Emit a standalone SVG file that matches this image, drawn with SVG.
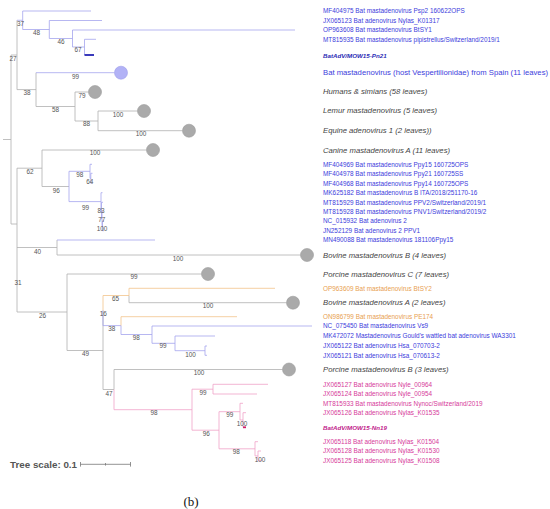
<svg xmlns="http://www.w3.org/2000/svg" width="550" height="509" viewBox="0 0 550 509">
<style>
.br{fill:none;stroke-width:0.8}
.g{stroke:#b0b0b0}.b{stroke:#a4a4ee}.o{stroke:#f2c48c}.p{stroke:#f0a2c8}
.lf{font-family:"Liberation Sans",Arial,sans-serif;font-size:6.4px}
.bl{fill:#3c3cdc}.or{fill:#e8a050}.pk{fill:#d63a9a}
.grp{font-family:"Liberation Sans",Arial,sans-serif;font-size:7.7px;font-style:italic;fill:#444}
.em{font-family:"Liberation Sans",Arial,sans-serif;font-size:6.2px;font-style:italic;font-weight:bold}
.bs{font-family:"Liberation Sans",Arial,sans-serif;font-size:6.4px;fill:#555;text-anchor:middle}
.cg{fill:#aaaaaa;stroke:#9a9a9a;stroke-width:0.6}
.cb{fill:#b2b2f6;stroke:#9c9cea;stroke-width:0.6}
</style>
<rect width="550" height="509" fill="#ffffff"/>
<g id="connectors">
<path class="br g" d="M3 139.5H11M11 55V224M11 55H17M11 224H17M17 20.25V89.6M17 89.6H36M36 72.7V106.5M36 106.5H75M75 92V121M75 92H88.5M75 121H98M98 111V130.7M98 111H137.5M98 130.7H182.5M17 168.2V312M17 168.2H42M42 150V186.5M42 150H146.5M42 186.5H69M17 247.5H57M57 240V255M57 255H300.5M17 312H67M67 274V350.5M67 274H201.5M67 350.5H103M103 310.5V389.5M103 389.5H114M114 369.5V389.5M114 369.5H282.5M129 295.5V302.7M129 302.7H286.5"/>
<path class="br b" d="M17 20.25H22.7M22.7 11V29.5M22.7 11H91M22.7 29.5H49.3M49.3 20.5V38.5M49.3 20.5H102M49.3 38.5H72.5M72.5 30V47M72.5 30H295M72.5 47H84.5M84.5 39.3V55M84.5 39.3H96M36 72.7H114.5M69 171.3V201.6M69 171.3H90M90 164.3V178.3M90 164.3H92M90 178.3H90.8M90.8 173.3V183.3M90.8 173.3H92.5M90.8 183.3H92M69 201.6H101M101 192.7V210.5M101 192.7H102.5M101 210.5H101.5M101.5 202.3V218.8M101.5 202.3H103M101.5 218.8H102M102 211.7V225.9M102 211.7H103M102 225.9H102.5M102.5 221V230.7M102.5 221H104M102.5 230.7H104M57 240H155M103 310.5V325.6M103 325.6H121M121 325.6V334.5M121 334.5H152M152 326V343.3M152 326H312M152 343.3H175M175 336V350.7M175 336H215M175 350.7H205M205 346V355.3M205 346H207M205 355.3H207"/>
<path class="br o" d="M103 295.5V310.5M103 295.5H129M129 288.3V295.5M129 288.3H275M121 316.7V325.6M121 316.7H237"/>
<path class="br p" d="M114 389.5V409.7M114 409.7H192M192 389.2V430.2M192 389.2H213M213 384.3V394M213 384.3H268M213 394H257M192 430.2H219M219 411.7V448.8M219 411.7H240M240 403.3V420M240 403.3H243M240 420H243M243 412.7V427.3M243 412.7H246M219 448.8H255M255 441.7V455.9M255 441.7H258M255 455.9H258M258 451V460.7M258 451H261M258 460.7H262"/>
<path d="M84.5 55H94" stroke="#2424b4" stroke-width="1.8" fill="none"/>
<path d="M243 427.3H246" stroke="#d0206a" stroke-width="1.8" fill="none"/>
</g>
<g id="bootstrap">
<text class="bs" x="20.5" y="25.8">37</text>
<text class="bs" x="36.5" y="35.3">48</text>
<text class="bs" x="61" y="44.3">46</text>
<text class="bs" x="78" y="52.3">67</text>
<text class="bs" x="13" y="60.8">27</text>
<text class="bs" x="75.5" y="78.8">99</text>
<text class="bs" x="27" y="95.3">38</text>
<text class="bs" x="82" y="97.8">79</text>
<text class="bs" x="55.5" y="112.3">58</text>
<text class="bs" x="86.5" y="126.3">88</text>
<text class="bs" x="118" y="117.3">100</text>
<text class="bs" x="141" y="136.3">100</text>
<text class="bs" x="95" y="155.1">100</text>
<text class="bs" x="30" y="174.3">62</text>
<text class="bs" x="79.7" y="176.8">98</text>
<text class="bs" x="89.7" y="184">64</text>
<text class="bs" x="56.3" y="193.3">96</text>
<text class="bs" x="85.5" y="210.1">99</text>
<text class="bs" x="101" y="212.8">83</text>
<text class="bs" x="101.7" y="221.8">77</text>
<text class="bs" x="102" y="231.3">100</text>
<text class="bs" x="37.5" y="253.8">40</text>
<text class="bs" x="178" y="260.6">100</text>
<text class="bs" x="18" y="285.3">31</text>
<text class="bs" x="134" y="279.3">99</text>
<text class="bs" x="42.5" y="317.8">26</text>
<text class="bs" x="115.5" y="301.1">65</text>
<text class="bs" x="208" y="308.3">100</text>
<text class="bs" x="103.3" y="316.1">16</text>
<text class="bs" x="111.7" y="331.1">38</text>
<text class="bs" x="136.3" y="340.3">98</text>
<text class="bs" x="163" y="348.3">99</text>
<text class="bs" x="190.5" y="356.8">100</text>
<text class="bs" x="85.5" y="356.1">49</text>
<text class="bs" x="199" y="375.3">100</text>
<text class="bs" x="109" y="395.6">47</text>
<text class="bs" x="154" y="415.3">98</text>
<text class="bs" x="203" y="395.3">99</text>
<text class="bs" x="206.3" y="435.8">96</text>
<text class="bs" x="229.7" y="417.3">99</text>
<text class="bs" x="242" y="425.6">100</text>
<text class="bs" x="236.3" y="454.3">98</text>
<text class="bs" x="260" y="461.8">100</text>
</g>
<g id="leaf-MF404975"><text class="lf bl" x="323" y="13.2">MF404975 Bat mastadenovirus Psp2 160622OPS</text></g>
<g id="leaf-JX065123"><text class="lf bl" x="323" y="22.7">JX065123 Bat adenovirus Nylas_K01317</text></g>
<g id="leaf-OP963608"><text class="lf bl" x="323" y="32.2">OP963608 Bat mastadenovirus BtSY1</text></g>
<g id="leaf-MT815935"><text class="lf bl" x="323" y="41.5">MT815935 Bat mastadenovirus pipistrellus/Switzerland/2019/1</text></g>
<g id="leaf-Pn21"><text class="em" x="323" y="58.2" fill="#2a2ab4">BatAdV/MOW15-Pn21</text></g>
<g id="clade-spain"><circle class="cb" cx="121" cy="72.7" r="6.5"/><text x="323" y="75.4" font-family="Liberation Sans, Arial, sans-serif" font-size="7.7" fill="#3c3cdc">Bat mastadenovirus (host Vespertilionidae) from Spain (11 leaves)</text></g>
<g id="clade-humans"><circle class="cg" cx="95" cy="92" r="6.5"/><text class="grp" x="323" y="94.4">Humans &amp; simians (58 leaves)</text></g>
<g id="clade-lemur"><circle class="cg" cx="144" cy="111" r="6.5"/><text class="grp" x="323" y="112.7">Lemur mastadenovirus (5 leaves)</text></g>
<g id="clade-equine"><circle class="cg" cx="189" cy="130.7" r="6.5"/><text class="grp" x="323" y="133.4">Equine adenovirus 1 (2 leaves))</text></g>
<g id="clade-canine"><circle class="cg" cx="153" cy="150" r="6.5"/><text class="grp" x="323" y="152.7">Canine mastadenovirus A (11 leaves)</text></g>
<g id="leaf-MF404969"><text class="lf bl" x="323" y="166.5">MF404969 Bat mastadenovirus Ppy15 160725OPS</text></g>
<g id="leaf-MF404978"><text class="lf bl" x="323" y="175.5">MF404978 Bat mastadenovirus Ppy21 160725SS</text></g>
<g id="leaf-MF404968"><text class="lf bl" x="323" y="185.5">MF404968 Bat mastadenovirus Ppy14 160725OPS</text></g>
<g id="leaf-MK625182"><text class="lf bl" x="323" y="194.9">MK625182 Bat mastadenovirus B ITA/2018/251170-16</text></g>
<g id="leaf-MT815929"><text class="lf bl" x="323" y="204.5">MT815929 Bat mastadenovirus PPV2/Switzerland/2019/1</text></g>
<g id="leaf-MT815928"><text class="lf bl" x="323" y="213.9">MT815928 Bat mastadenovirus PNV1/Switzerland/2019/2</text></g>
<g id="leaf-NC015932"><text class="lf bl" x="323" y="223.2">NC_015932 Bat adenovirus 2</text></g>
<g id="leaf-JN252129"><text class="lf bl" x="323" y="232.9">JN252129 Bat adenovirus 2 PPV1</text></g>
<g id="leaf-MN490088"><text class="lf bl" x="323" y="242.2">MN490088 Bat mastadenovirus 181106Ppy15</text></g>
<g id="clade-bovineB"><circle class="cg" cx="307" cy="255" r="6.5"/><text class="grp" x="323" y="257.7">Bovine mastadenovirus B (4 leaves)</text></g>
<g id="clade-porcineC"><circle class="cg" cx="208" cy="274" r="6.5"/><text class="grp" x="323" y="276.7">Porcine mastadenovirus C (7 leaves)</text></g>
<g id="leaf-OP963609"><text class="lf or" x="323" y="290.5">OP963609 Bat mastadenovirus BtSY2</text></g>
<g id="clade-bovineA"><circle class="cg" cx="293" cy="302.7" r="6.5"/><text class="grp" x="323" y="305.4">Bovine mastadenovirus A (2 leaves)</text></g>
<g id="leaf-ON986799"><text class="lf or" x="323" y="318.9">ON986799 Bat mastadenovirus PE174</text></g>
<g id="leaf-NC075450"><text class="lf bl" x="323" y="328.2">NC_075450 Bat mastadenovirus Vs9</text></g>
<g id="leaf-MK472072"><text class="lf bl" x="323" y="338.2">MK472072 Mastadenovirus Gould's wattled bat adenovirus WA3301</text></g>
<g id="leaf-JX065122"><text class="lf bl" x="323" y="348.2">JX065122 Bat adenovirus Hsa_070703-2</text></g>
<g id="leaf-JX065121"><text class="lf bl" x="323" y="357.5">JX065121 Bat adenovirus Hsa_070613-2</text></g>
<g id="clade-porcineB"><circle class="cg" cx="289" cy="369.5" r="6.5"/><text class="grp" x="323" y="372">Porcine mastadenovirus B (3 leaves)</text></g>
<g id="leaf-JX065127"><text class="lf pk" x="323" y="386.5">JX065127 Bat adenovirus Nyle_00964</text></g>
<g id="leaf-JX065124"><text class="lf pk" x="323" y="396.2">JX065124 Bat adenovirus Nyle_00954</text></g>
<g id="leaf-MT815933"><text class="lf pk" x="323" y="405.5">MT815933 Bat mastadenovirus Nynoc/Switzerland/2019</text></g>
<g id="leaf-JX065126"><text class="lf pk" x="323" y="414.9">JX065126 Bat adenovirus Nylas_K01535</text></g>
<g id="leaf-Nn19"><text class="em" x="323" y="429.5" fill="#c0208a">BatAdV/MOW15-Nn19</text></g>
<g id="leaf-JX065118"><text class="lf pk" x="323" y="443.9">JX065118 Bat adenovirus Nylas_K01504</text></g>
<g id="leaf-JX065128"><text class="lf pk" x="323" y="453.2">JX065128 Bat adenovirus Nylas_K01530</text></g>
<g id="leaf-JX065125"><text class="lf pk" x="323" y="462.9">JX065125 Bat adenovirus Nylas_K01508</text></g>
<g id="scale">
<text x="10" y="467.8" font-family="Liberation Sans, Arial, sans-serif" font-size="9.8" font-weight="bold" fill="#555">Tree scale: 0.1</text>
<path d="M80.5 464.3H130.5M80.5 462V466.6M130.5 462V466.6M105.5 463V465.6" stroke="#777" stroke-width="0.8" fill="none"/>
</g>
<text x="191" y="505.5" font-family="Liberation Serif, Times New Roman, serif" font-size="13" text-anchor="middle" fill="#111">(b)</text>
</svg>
